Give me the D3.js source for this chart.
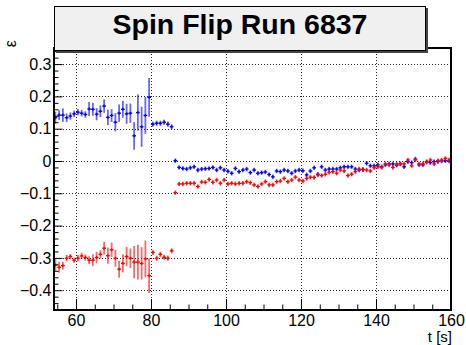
<!DOCTYPE html>
<html><head><meta charset="utf-8">
<script src="https://cdn.jsdelivr.net/npm/d3@7"></script>
<style>body{margin:0;background:#fff}svg{display:block}</style>
</head><body><svg id="c" width="466" height="345"></svg>
<script>
const times = [54.5,55.5,56.5,57.5,58.5,59.5,60.5,61.5,62.5,63.5,64.5,65.5,66.5,67.5,68.5,69.5,70.5,71.5,72.5,73.5,74.5,75.5,76.5,77.5,78.5,79.5,
80.5,81.5,82.5,83.5,84.5,85.5,86.5,87.5,88.5,89.5,90.5,91.5,92.5,93.5,94.5,95.5,96.5,97.5,98.5,99.5,100.5,101.5,102.5,103.5,104.5,105.5,106.5,107.5,108.5,109.5,
110.5,111.5,112.5,113.5,114.5,115.5,116.5,117.5,118.5,119.5,120.5,121.5,122.5,123.5,124.5,125.5,126.5,127.5,128.5,129.5,130.5,131.5,132.5,133.5,134.5,135.5,
136.5,137.5,138.5,139.5,140.5,141.5,142.5,143.5,144.5,145.5,146.5,147.5,148.5,149.5,150.5,151.5,152.5,153.5,154.5,155.5,156.5,157.5,158.5,159.5];
const blueVals = [0.134,0.142,0.142,0.134,0.139,0.146,0.151,0.148,0.144,0.161,0.160,0.145,0.154,0.170,0.135,0.141,0.120,0.148,0.160,0.146,0.148,0.078,0.150,0.106,0.141,0.197,
0.114,0.117,0.117,0.120,0.114,0.106,0.001,-0.020,-0.023,-0.025,-0.021,-0.018,-0.028,-0.025,-0.024,-0.023,-0.020,-0.028,-0.021,-0.028,-0.032,-0.038,-0.023,-0.033,-0.028,-0.025,-0.036,-0.028,-0.038,-0.036,
-0.034,-0.042,-0.049,-0.031,-0.033,-0.028,-0.031,-0.038,-0.031,-0.028,-0.030,-0.043,-0.031,-0.021,-0.041,-0.018,-0.028,-0.025,-0.025,-0.025,-0.021,-0.018,-0.018,-0.018,-0.025,-0.028,
-0.026,-0.007,-0.015,-0.015,-0.012,-0.018,-0.012,-0.009,-0.009,-0.013,-0.009,-0.018,-0.002,-0.005,0.006,-0.012,-0.012,-0.002,-0.005,-0.002,-0.002,0.000,0.001,0.000];
const blueErrs = [0.018,0.015,0.021,0.013,0.011,0.010,0.010,0.010,0.010,0.022,0.020,0.019,0.018,0.021,0.024,0.020,0.028,0.027,0.026,0.031,0.030,0.043,0.056,0.062,0.057,0.060,
0.008,0.008,0.008,0.008,0.008,0.008,0.007,0.007,0.007,0.007,0.007,0.007,0.007,0.007,0.007,0.007,0.007,0.007,0.007,0.007,0.007,0.007,0.007,0.007,0.007,0.007,0.007,0.007,0.007,0.007,
0.007,0.007,0.007,0.007,0.007,0.007,0.007,0.007,0.007,0.007,0.007,0.007,0.007,0.007,0.007,0.007,0.007,0.007,0.007,0.007,0.007,0.007,0.007,0.007,0.007,0.007,
0.007,0.007,0.007,0.007,0.007,0.007,0.007,0.007,0.007,0.007,0.007,0.007,0.007,0.007,0.007,0.007,0.007,0.007,0.007,0.007,0.007,0.007,0.007,0.007];
const redVals = [-0.322,-0.329,-0.324,-0.301,-0.296,-0.307,-0.301,-0.294,-0.299,-0.307,-0.307,-0.299,-0.289,-0.270,-0.293,-0.275,-0.301,-0.335,-0.317,-0.296,-0.301,-0.313,-0.313,-0.317,-0.303,-0.355,
-0.283,-0.301,-0.289,-0.298,-0.301,-0.278,-0.098,-0.071,-0.071,-0.069,-0.069,-0.069,-0.079,-0.065,-0.066,-0.057,-0.066,-0.059,-0.069,-0.059,-0.071,-0.069,-0.071,-0.069,-0.069,-0.064,-0.067,-0.074,-0.079,-0.071,
-0.064,-0.074,-0.074,-0.064,-0.062,-0.054,-0.064,-0.059,-0.050,-0.059,-0.062,-0.054,-0.050,-0.051,-0.043,-0.045,-0.041,-0.035,-0.033,-0.038,-0.028,-0.031,-0.045,-0.041,-0.033,-0.025,
-0.027,-0.028,-0.031,-0.021,-0.018,-0.020,-0.009,-0.012,-0.020,-0.009,-0.009,-0.009,0.003,-0.015,0.003,-0.009,-0.009,-0.004,0.003,-0.009,0.001,0.003,0.008,0.003];
const redErrs = [0.018,0.017,0.012,0.010,0.008,0.008,0.010,0.010,0.010,0.012,0.018,0.018,0.013,0.020,0.025,0.022,0.026,0.026,0.028,0.030,0.030,0.050,0.054,0.050,0.057,0.054,
0.008,0.008,0.008,0.008,0.008,0.008,0.007,0.007,0.007,0.007,0.007,0.007,0.007,0.007,0.007,0.007,0.007,0.007,0.007,0.007,0.007,0.007,0.007,0.007,0.007,0.007,0.007,0.007,0.007,0.007,
0.007,0.007,0.007,0.007,0.007,0.007,0.007,0.007,0.007,0.007,0.007,0.007,0.007,0.007,0.007,0.007,0.007,0.007,0.007,0.007,0.007,0.007,0.007,0.007,0.007,0.007,
0.007,0.007,0.007,0.007,0.007,0.007,0.007,0.007,0.007,0.007,0.007,0.007,0.007,0.007,0.007,0.007,0.007,0.007,0.007,0.007,0.007,0.007,0.007,0.007];
const xMajor = [60,80,100,120,140,160];
const xMinor = [55,65,70,75,85,90,95,105,110,115,125,130,135,145,150,155];
const yMajor = [-0.4,-0.3,-0.2,-0.1,0,0.1,0.2,0.3];
const yMinor = [-0.46,-0.44,-0.42,-0.38,-0.36,-0.34,-0.32,-0.28,-0.26,-0.24,-0.22,-0.18,-0.16,-0.14,-0.12,-0.08,-0.06,-0.04,-0.02,0.02,0.04,0.06,0.08,0.12,0.14,0.16,0.18,0.22,0.24,0.26,0.28,0.32,0.34];
const title = "Spin Flip Run 6837";

const svg = d3.select("#c");
const L=54, R=451, T=48, B=310;
const x = d3.scaleLinear().domain([54,160]).range([53.5,451]);
const y = d3.scaleLinear().domain([-0.4613,0.3498]).range([B,T]);
const font = "'Liberation Sans', Arial, Helvetica, sans-serif";

// grid
const grid = svg.append("g").attr("stroke","#222").attr("stroke-width",1).attr("stroke-dasharray","1,2");
grid.selectAll(".gx").data(xMajor.filter(d=>d<160)).join("line")
  .attr("x1",d=>Math.round(x(d))+0.5).attr("x2",d=>Math.round(x(d))+0.5).attr("y1",T).attr("y2",B);
grid.selectAll(".gy").data(yMajor).join("line")
  .attr("y1",d=>Math.round(y(d))+0.5).attr("y2",d=>Math.round(y(d))+0.5).attr("x1",L).attr("x2",R);

// data
svg.append("clipPath").attr("id","pc").append("rect").attr("x",L).attr("y",T).attr("width",R-L).attr("height",B-T);
const plot = svg.append("g").attr("clip-path","url(#pc)");
function series(vals, errs, col){
  const g = plot.append("g");
  const data = times.map((t,i)=>({t, v:vals[i], e:errs[i]}));
  g.selectAll(".ey").data(data).join("line")
    .attr("x1",d=>x(d.t)).attr("x2",d=>x(d.t))
    .attr("y1",d=>y(d.v-d.e)).attr("y2",d=>y(d.v+d.e))
    .attr("stroke",col).attr("stroke-width",1.8).attr("stroke-opacity",0.6);
  g.selectAll(".ex").data(data).join("line")
    .attr("x1",d=>x(d.t-0.5)).attr("x2",d=>x(d.t+0.5))
    .attr("y1",d=>y(d.v)).attr("y2",d=>y(d.v))
    .attr("stroke",col).attr("stroke-width",1.3);
  g.selectAll(".c").data(data).join("line")
    .attr("x1",d=>x(d.t)).attr("x2",d=>x(d.t))
    .attr("y1",d=>y(d.v)-1.5).attr("y2",d=>y(d.v)+1.5)
    .attr("stroke",col).attr("stroke-width",1.2);
}
series(blueVals, blueErrs, "#0000ff");
series(redVals, redErrs, "#ff0000");

// axes
const axB = d3.axisBottom(x).tickValues(xMajor).tickSize(-11).tickPadding(5).tickFormat(d3.format("d"));
const axBm = d3.axisBottom(x).tickValues(xMinor).tickSize(-5.5).tickFormat("");
const axL = d3.axisLeft(y).tickValues(yMajor).tickSize(-8.5).tickPadding(2.5).tickFormat(d=>d===0?"0":d3.format(".1f")(d));
const axLm = d3.axisLeft(y).tickValues(yMinor).tickSize(-4.5).tickFormat("");
function styleAx(g){
  g.select(".domain").remove();
  g.selectAll("line").attr("stroke","#000").attr("stroke-width",1);
  g.selectAll("text").attr("font-family",font).attr("font-size",16).attr("fill","#000");
}
svg.append("g").attr("transform",`translate(0,${B})`).call(axB).call(styleAx);
svg.append("g").attr("transform",`translate(0,${B})`).call(axBm).call(styleAx);
svg.append("g").attr("transform",`translate(${L},0)`).call(axL).call(styleAx);
svg.append("g").attr("transform",`translate(${L},0)`).call(axLm).call(styleAx);

// frame
svg.append("rect").attr("x",L).attr("y",T).attr("width",R-L).attr("height",B-T)
  .attr("fill","none").attr("stroke","#000").attr("stroke-width",2);

// axis titles
svg.append("text").attr("x",452).attr("y",341.5).attr("text-anchor","end")
  .attr("font-family",font).attr("font-size",15).text("t [s]");
svg.append("text").attr("transform","translate(16,40) rotate(-90)").attr("text-anchor","end")
  .attr("font-family",font).attr("font-size",16).text("ε");

// title box
svg.append("rect").attr("x",56).attr("y",8).attr("width",372).attr("height",45).attr("fill","#444");
svg.append("rect").attr("x",54.5).attr("y",6.5).attr("width",371).attr("height",44).attr("fill","#f0f0f0").attr("stroke","#000").attr("stroke-width",1);
svg.append("text").attr("x",240).attr("y",34).attr("text-anchor","middle")
  .attr("font-family",font).attr("font-weight","bold").attr("font-size",28.5).text(title);
</script></body></html>
